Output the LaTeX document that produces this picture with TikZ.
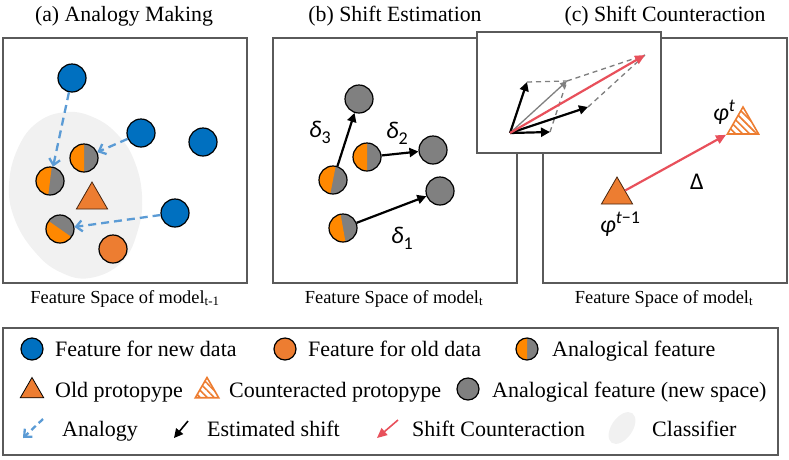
\documentclass[tikz,border=0pt]{standalone}
\usepackage{fontspec}
\setmainfont{Liberation Serif}
\newfontfamily\symfont{Carlito}
\usetikzlibrary{arrows.meta,shapes.geometric,patterns.meta}
\definecolor{figB}{RGB}{0,112,192}
\definecolor{figO}{RGB}{237,125,49}
\definecolor{figA}{RGB}{255,136,0}
\definecolor{figG}{RGB}{128,128,128}
\definecolor{figL}{RGB}{91,155,213}
\definecolor{figR}{RGB}{232,80,91}
\definecolor{figC}{RGB}{241,241,241}
\definecolor{figF}{RGB}{90,90,90}
\newcommand{\lowidx}[1]{\raisebox{-6pt}{\fontsize{18}{18}\selectfont#1}}
\newcommand{\highidx}[1]{\raisebox{9pt}{\fontsize{18}{18}\selectfont#1}}

\begin{document}
\begin{tikzpicture}[x=1pt,y=-1pt,
  feat/.style={circle,draw=black,line width=1.2pt,minimum size=28pt,inner sep=0pt},
  newf/.style={feat,fill=figB}, oldf/.style={feat,fill=figO}, gryf/.style={feat,fill=figG},
  anaf/.style={feat,fill=figG,path picture={\fill[figA] (path picture bounding box.center) -- ++(#1:20pt) arc[start angle=#1,delta angle=180,radius=20pt] -- cycle;}},
  proto/.style={regular polygon,regular polygon sides=3,inner sep=0pt,minimum size=36pt,fill=figO,draw=black!70!figO,line width=0.8pt},
  hatch/.style={regular polygon,regular polygon sides=3,inner sep=0pt,minimum size=36pt,draw=figO,line width=1.6pt,
    pattern={Lines[angle=-45,distance=5pt,line width=1.6pt]},pattern color=figO},
  boxline/.style={draw=figF,line width=1.1pt},
  analogy/.style={figL,line width=2.3pt,dash pattern=on 8pt off 5pt,-{Straight Barb[length=6pt,width=11pt,line width=2.3pt]}},
  estarr/.style={black,line width=2.2pt,-{Triangle[length=9pt,width=9pt]}},
  ctrarr/.style={figR,line width=2.2pt,-{Triangle[length=10pt,width=9pt]}},
  ttl/.style={anchor=base,inner sep=0pt,font=\fontsize{21.8}{26}\selectfont},
  captxt/.style={anchor=base,inner sep=0pt,font=\fontsize{18.4}{22}\selectfont},
  lbl/.style={anchor=base west,inner sep=0pt,font=\fontsize{22}{26}\selectfont},
  sym/.style={inner sep=0pt,font=\symfont\fontsize{24}{28}\selectfont}]
\useasboundingbox (0,0) rectangle (789,459);
% frames and titles
\draw[boxline] (3,38) rectangle (247,283); \draw[boxline] (273,38) rectangle (517,283); \draw[boxline] (543,38) rectangle (787,283);
\node[ttl] (ttlA) at (124,21) {(a) Analogy Making};
\node[ttl] (ttlB) at (395,21) {(b) Shift Estimation};
\node[ttl] (ttlC) at (665,21) {(c) Shift Counteraction};
\node[captxt] (capA) at (125,303) {Feature Space of model\textsubscript{t-1}};
\node[captxt] (capB) at (394,303) {Feature Space of model\textsubscript{t}};
\node[captxt] (capC) at (664,303) {Feature Space of model\textsubscript{t}};
% (a) analogy making
\fill[figC] plot[smooth cycle,tension=0.7] coordinates {(67,112) (95,118) (118,135) (134,160) (142,195) (138,230) (122,262) (90,278) (60,272) (35,252) (15,220) (9,185) (18,148) (38,122)};
\node[newf] (n1) at (72,78) {}; \node[newf] (n2) at (141,133) {}; \node[newf] (n3) at (203,142) {}; \node[newf] (n4) at (175,213) {};
\node[anaf=90] (a1) at (84,158) {}; \node[anaf=83] (a2) at (50,181) {}; \node[anaf=145] (a3) at (60,229) {};
\node[proto] (pA) at (92,200) {};
\node[oldf] (o1) at (113,249) {};
\draw[analogy] (n1) -- (a2); \draw[analogy] (n2) -- (a1); \draw[analogy] (n4) -- (a3);
% (b) shift estimation
\node[anaf=100] (c1) at (343,228) {}; \node[anaf=90] (c2) at (367,157) {}; \node[anaf=79] (c3) at (333,180) {};
\node[gryf] (g1) at (440,191) {}; \node[gryf] (g2) at (433,150) {}; \node[gryf] (g3) at (359,99) {};
\draw[estarr] (c1) -- (g1); \draw[estarr] (c2) -- (g2); \draw[estarr] (c3) -- (g3);
\node[sym] (d1) at (402,238) {\textit{δ}\lowidx{1}}; \node[sym] (d2) at (397,133) {\textit{δ}\lowidx{2}}; \node[sym] (d3) at (320,132) {\textit{δ}\lowidx{3}};
% (c) shift counteraction
\node[proto] (pold) at (617,195) {}; \node[hatch] (pnew) at (743,125) {};
\draw[ctrarr] (pold) -- (pnew.corner 2);
\node[sym] (dl) at (697,182) {Δ};
\node[sym] (fo) at (620,224) {\textit{φ}\highidx{\textit{t}−1}}; \node[sym] (fn) at (724,112) {\textit{φ}\highidx{\textit{t}}};
% inset: summing the shifts
\draw[boxline,fill=white] (477,32) rectangle (661,153);
\coordinate (o) at (510,133); \coordinate (va) at (527,82); \coordinate (vb) at (550,132); \coordinate (vc) at (588,107);
\coordinate (vab) at (567,81); \coordinate (vr) at (645,55);
\draw[figG,line width=1.3pt,dash pattern=on 5pt off 4pt] (va) -- (vab) (vb) -- (vab) (vab) -- (vr) (vc) -- (vr);
\draw[figG,line width=1.3pt,-{Triangle[length=7pt,width=6pt]}] (o) -- (vab);
\draw[estarr] (o) -- (va); \draw[estarr] (o) -- (vb); \draw[estarr] (o) -- (vc);
\draw[ctrarr] (o) -- (vr);
% legend
\draw[boxline,line width=1.3pt] (3,328) rectangle (778,455);
\node[newf,minimum size=22pt] (lgB) at (32,349) {}; \node[lbl] (lgBt) at (55,356) {Feature for new data};
\node[oldf,minimum size=22pt] (lgO) at (285,349) {}; \node[lbl] (lgOt) at (308,356) {Feature for old data};
\node[anaf=90,minimum size=22pt] (lgA) at (527,349) {}; \node[lbl] (lgAt) at (552,356) {Analogical feature};
\node[proto,minimum size=27pt,draw=black] (lgP) at (32,391) {}; \node[lbl] (lgPt) at (55,397) {Old protopype};
\node[hatch,minimum size=27pt] (lgH) at (207,391) {}; \node[lbl] (lgHt) at (229,397) {Counteracted protopype};
\node[gryf,minimum size=22pt] (lgG) at (468,389) {}; \node[lbl] (lgGt) at (492,397) {Analogical feature (new space)};
\coordinate (lgL1) at (43,419); \coordinate (lgL2) at (23,438);
\draw[analogy,dash pattern=on 6pt off 4pt] (lgL1) -- (lgL2); \node[lbl] (lgLt) at (62,436) {Analogy};
\coordinate (lgS1) at (188,421); \coordinate (lgS2) at (174,438);
\draw[estarr,line width=1.6pt] (lgS1) -- (lgS2); \node[lbl] (lgSt) at (207,436) {Estimated shift};
\coordinate (lgR1) at (398,420); \coordinate (lgR2) at (377,438);
\draw[ctrarr,line width=1.6pt] (lgR1) -- (lgR2); \node[lbl] (lgRt) at (412,436) {Shift Counteraction};
\node[ellipse,fill=figC,minimum width=36pt,minimum height=21pt,rotate=55] (lgC) at (622,428) {}; \node[lbl] (lgCt) at (652,436) {Classifier};
\end{tikzpicture}
\end{document}
